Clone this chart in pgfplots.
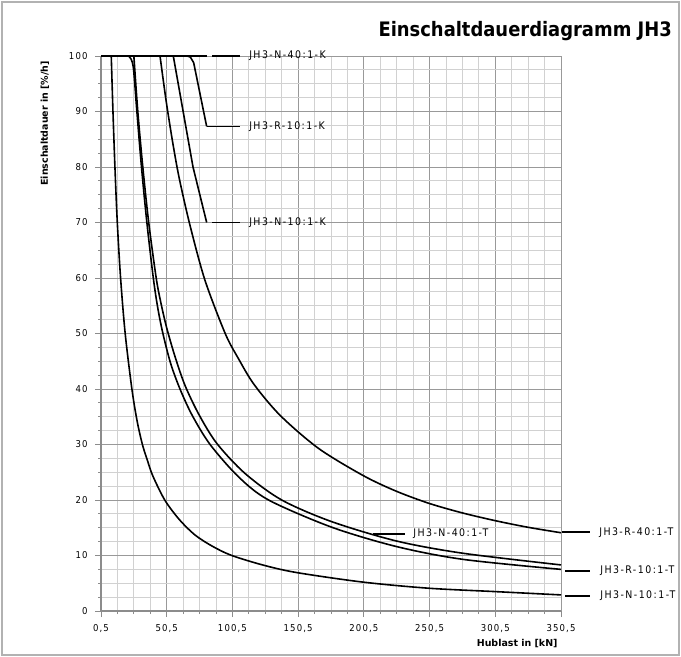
\documentclass[border=0pt]{standalone}
\usepackage{fontspec}
\setmainfont{DejaVu Sans Condensed}
\newfontfamily\lbl[LetterSpace=14]{DejaVu Sans Condensed}
\newfontfamily\tck[LetterSpace=12]{DejaVu Sans Condensed}
\newfontfamily\axl{DejaVu Sans}
\usepackage{pgfplots}
\pgfplotsset{compat=1.18}
\begin{document}
\begin{tikzpicture}[x=1bp,y=1bp]
\useasboundingbox (0,0) rectangle (681,657);
\draw[black!30, line width=1.2bp] (2,2) rectangle (679,655);
\node[anchor=base east, inner sep=0pt, font=\bfseries\fontsize{20}{24}\selectfont] at (672,620) {Einschaltdauerdiagramm JH3};
\node[rotate=90, anchor=east, inner sep=0pt, font=\axl\bfseries\fontsize{9.5}{10}\selectfont] at (45,596) {Einschaltdauer in [\%/h]};
\begin{axis}[
  at={(101bp,46bp)}, anchor=south west,
  scale only axis, width=460bp, height=555bp,
  xmin=0.5, xmax=350.5, ymin=0, ymax=100,
  axis lines=left,
  axis line style={black!45, line width=1.2bp, -},
  xtick={0.5,50.5,100.5,150.5,200.5,250.5,300.5,350.5},
  xticklabels={{0,5},{50,5},{100,5},{150,5},{200,5},{250,5},{300,5},{350,5}},
  ytick={0,10,...,100},
  minor x tick num=3, minor y tick num=3,
  grid=both,
  major grid style={black!40, line width=0.9bp},
  minor grid style={black!18, line width=0.8bp},
  tick style={black!45, line width=0.9bp},
  tick align=outside, major tick length=6bp, minor tick length=3bp,
  /pgf/number format/assume math mode=true,
  ticklabel style={font=\tck\fontsize{9.5}{10}\selectfont},
  xticklabel style={yshift=-4bp},
  yticklabel style={xshift=-4bp},
  xlabel={Hublast in [kN]},
  xlabel style={at={(rel axis cs:1,0)}, anchor=north east, yshift=-25bp, font=\axl\bfseries\fontsize{9.5}{10}\selectfont},
  clip=false,
  every axis plot post/.append style={black, line width=1.6bp, mark=none},
]
% JH3-N-40:1-K
\addplot coordinates {(0.5,100) (80.9,100)};
% JH3-R-10:1-K
\addplot coordinates {(66,100) (68.5,99.8) (71,98.8) (80.9,87.3)};
% JH3-N-10:1-K
\addplot coordinates {(55.5,100) (63,90) (70.5,80) (80.9,70)};
% JH3-N-10:1-T
\addplot[smooth, tension=0.5] coordinates {
(8.3,100) (9.6,90) (11.1,80) (12.9,70) (15.4,60) (18.9,50) (24,40) (28,34.2)
(32,30) (36,27) (40,24.3) (49,20) (60,16.5) (72,13.7) (85,11.7) (100,10)
(125,8.2) (150,6.9) (200,5.2) (250,4.1) (300,3.5) (350.5,2.9)};
% JH3-N-40:1-T
\addplot[smooth, tension=0.5] coordinates {
(25.5,100) (28.5,90) (32.3,80) (36.8,70) (42.5,60) (46,55.6) (50.5,51) (57,45.7)
(64.5,40.6) (75,35.4) (88.6,30.2) (110,24.8) (138,20) (176,16.1) (225.5,12.6)
(276,10.4) (350.5,8.3)};
% JH3-R-10:1-T
\addplot[smooth, tension=0.5] coordinates {
(21.3,100) (23.5,99.4) (25.3,97.5) (27.8,90) (31.3,80) (35.4,70) (40.3,60) (43.7,54.6)
(47.6,50) (53.5,44.6) (60.6,40) (70,35.2) (83.5,30) (105,24.2) (128,20) (176,15.1)
(225.5,11.6) (276,9.3) (350.5,7.5)};
% JH3-R-40:1-T
\addplot[smooth, tension=0.5] coordinates {
(45.4,100) (50,92) (55,84.5) (60,78) (68.2,69.5) (79.6,59.6) (95,50) (105,45.5)
(117,40.8) (137,35.2) (166,29.3) (200,24.4) (225,21.6) (250,19.4) (275,17.7)
(300,16.3) (325,15.1) (350.5,14.1)};
% labels
\begin{scope}[line width=1.6bp]
\draw (axis cs:85,100) -- (axis cs:106.3,100);
\draw (axis cs:81.2,87.3) -- (axis cs:106.3,87.3);
\draw (axis cs:85,70) -- (axis cs:106.3,70);
\draw (axis cs:207.5,13.9) -- (axis cs:231.9,13.9);
\draw (axis cs:351.3,14.2) -- (axis cs:372.6,14.2);
\draw (axis cs:353.6,7.2) -- (axis cs:372.6,7.2);
\draw (axis cs:353.6,2.7) -- (axis cs:372.6,2.7);
\end{scope}
\begin{scope}[every node/.style={anchor=west, inner sep=1pt, font=\lbl\fontsize{10.5}{11}\selectfont}]
\node at (axis cs:112.4,100) {JH3-N-40:1-K};
\node at (axis cs:112.4,87.3) {JH3-R-10:1-K};
\node at (axis cs:112.4,70) {JH3-N-10:1-K};
\node[fill=white] at (axis cs:237.2,13.9) {JH3-N-40:1-T};
\node at (axis cs:378.7,14.2) {JH3-R-40:1-T};
\node at (axis cs:379.5,7.2) {JH3-R-10:1-T};
\node at (axis cs:379.5,2.7) {JH3-N-10:1-T};
\end{scope}
\end{axis}
\end{tikzpicture}
\end{document}
